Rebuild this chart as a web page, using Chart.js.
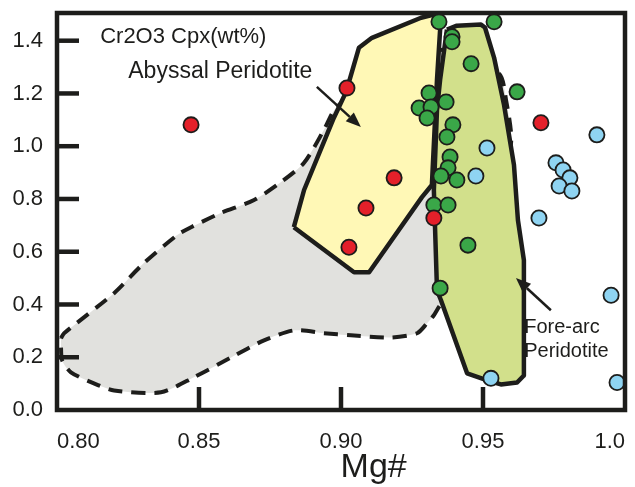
<!DOCTYPE html>
<html>
<head>
<meta charset="utf-8">
<script src="https://cdn.jsdelivr.net/npm/chart.js@4.4.1/dist/chart.umd.min.js"></script>
<style>
  html, body { margin: 0; padding: 0; background: #ffffff; }
  #wrap { width: 635px; height: 487px; }
</style>
</head>
<body>
<div id="wrap"><canvas id="chart" width="635" height="487"></canvas></div>
<script>
// tick values and labels
var xTicks = [0.80, 0.85, 0.90, 0.95, 1.0];
var xTickLabels = ["0.80", "0.85", "0.90", "0.95", "1.0"];
var yTicks = [0.0, 0.2, 0.4, 0.6, 0.8, 1.0, 1.2, 1.4];
var yTickLabels = ["0.0", "0.2", "0.4", "0.6", "0.8", "1.0", "1.2", "1.4"];

// samples (Mg#, Cr2O3 wt%)
var redX = [0.8472, 0.9021, 0.9187, 0.9088, 0.9028, 0.9327, 0.9704];
var redY = [1.081, 1.221, 0.880, 0.766, 0.617, 0.728, 1.089];
var greenX = [0.9345, 0.9539, 0.9391, 0.9391, 0.9458, 0.9620, 0.9310, 0.9370, 0.9275, 0.9317, 0.9303,
              0.9394, 0.9373, 0.9384, 0.9377, 0.9352, 0.9408, 0.9327, 0.9377, 0.9447, 0.9349];
var greenY = [1.472, 1.472, 1.415, 1.396, 1.313, 1.206, 1.202, 1.168, 1.145, 1.149, 1.107,
              1.081, 1.035, 0.959, 0.918, 0.887, 0.872, 0.777, 0.777, 0.625, 0.462];
var blueX = [0.9514, 0.9475, 0.9901, 0.9757, 0.9782, 0.9806, 0.9768, 0.9813, 0.9697, 0.9951, 0.9972, 0.9528];
var blueY = [0.993, 0.887, 1.043, 0.937, 0.910, 0.880, 0.849, 0.830, 0.728, 0.435, 0.104, 0.120];

// field outlines
var grayX = [0.8014, 0.8025, 0.8201, 0.8306, 0.8423, 0.8472, 0.8577, 0.8694, 0.8789, 0.8870, 0.8940, 0.8982,
             0.9151, 0.9363, 0.9556, 0.9581, 0.9599, 0.9539, 0.9398, 0.9349, 0.9327, 0.9303, 0.9268, 0.9176,
             0.9035, 0.8940, 0.8835, 0.8729, 0.8613, 0.8482, 0.8366, 0.8201, 0.8130, 0.8049, 0.8018, 0.8014];
var grayY = [0.272, 0.291, 0.443, 0.557, 0.663, 0.693, 0.747, 0.796, 0.864, 0.937, 1.062, 1.145,
             1.290, 1.366, 1.275, 1.176, 1.016, 0.720, 0.454, 0.397, 0.359, 0.329, 0.291, 0.275,
             0.283, 0.291, 0.302, 0.264, 0.199, 0.124, 0.067, 0.074, 0.101, 0.143, 0.188, 0.245];
var abyssalX = [0.8834, 0.8870, 0.8975, 0.9018, 0.9063, 0.9109, 0.9282, 0.9327, 0.9349, 0.9338, 0.9320,
                0.9285, 0.9099, 0.9046];
var abyssalY = [0.693, 0.834, 1.108, 1.206, 1.373, 1.411, 1.487, 1.499, 1.442, 1.252, 0.853,
                0.807, 0.522, 0.522];
var forearcX = [0.9373, 0.9408, 0.9493, 0.9507, 0.9539, 0.9574, 0.9609, 0.9623, 0.9644, 0.9644, 0.9644,
                0.9620, 0.9563, 0.9528, 0.9444, 0.9352, 0.9338, 0.9327, 0.9338, 0.9349];
var forearcY = [1.442, 1.457, 1.461, 1.450, 1.336, 1.157, 0.929, 0.720, 0.568, 0.416, 0.131,
                0.104, 0.097, 0.108, 0.139, 0.416, 0.454, 0.834, 1.138, 1.252];

// labels and arrows placed in data units
var notes = [
  { text: "Cr2O3 Cpx(wt%)", x: 0.8152, y: 1.393, size: 22 },
  { text: "Abyssal Peridotite", x: 0.8251, y: 1.260, size: 23 },
  { text: "Fore-arc", x: 0.9645, y: 0.291, size: 20 },
  { text: "Peridotite", x: 0.9645, y: 0.200, size: 20 }
];
var arrows = [
  { x1: 0.8915, y1: 1.225, x2: 0.9070, y2: 1.073 },
  { x1: 0.9739, y1: 0.378, x2: 0.9616, y2: 0.500 }
];

var FONT = "'Liberation Sans', Arial, Helvetica, sans-serif";
var INK = "#1d1d1b";

function pts(xs, ys) {
  var out = [];
  for (var i = 0; i < xs.length; i++) out.push({ x: xs[i], y: ys[i] });
  return out;
}
function closed(xs, ys) {
  var out = pts(xs, ys);
  out.push({ x: xs[0], y: ys[0] });
  return out;
}

function drawArrow(ctx, x1, y1, x2, y2) {
  var ang = Math.atan2(y2 - y1, x2 - x1);
  var head = 15, half = 6;
  var bx = x2 - head * Math.cos(ang), by = y2 - head * Math.sin(ang);
  ctx.beginPath();
  ctx.moveTo(x1, y1);
  ctx.lineTo(bx, by);
  ctx.stroke();
  ctx.beginPath();
  ctx.moveTo(x2, y2);
  ctx.lineTo(bx + half * Math.sin(ang), by - half * Math.cos(ang));
  ctx.lineTo(bx - half * Math.sin(ang), by + half * Math.cos(ang));
  ctx.closePath();
  ctx.fill();
}

var decorPlugin = {
  id: "decor",
  afterDatasetsDraw: function (chart) {
    var ctx = chart.ctx;
    var a = chart.chartArea;
    var xs = chart.scales.x, ys = chart.scales.y;
    ctx.save();
    ctx.strokeStyle = INK;
    ctx.fillStyle = INK;

    // inward tick marks
    ctx.lineWidth = 4.5;
    ctx.lineCap = "butt";
    for (var i = 1; i < xTicks.length - 1; i++) {
      var px = xs.getPixelForValue(xTicks[i]);
      ctx.beginPath();
      ctx.moveTo(px, a.bottom);
      ctx.lineTo(px, a.bottom - 23);
      ctx.stroke();
    }
    for (var j = 1; j < yTicks.length; j++) {
      var py = ys.getPixelForValue(yTicks[j]);
      ctx.beginPath();
      ctx.moveTo(a.left, py);
      ctx.lineTo(a.left + 22, py);
      ctx.stroke();
    }

    // frame
    ctx.lineWidth = 4.5;
    ctx.strokeRect(a.left, a.top, a.right - a.left, a.bottom - a.top);

    // arrows
    ctx.lineWidth = 2.5;
    for (var k = 0; k < arrows.length; k++) {
      var r = arrows[k];
      drawArrow(ctx, xs.getPixelForValue(r.x1), ys.getPixelForValue(r.y1),
        xs.getPixelForValue(r.x2), ys.getPixelForValue(r.y2));
    }

    // text labels
    ctx.textAlign = "left";
    ctx.textBaseline = "alphabetic";
    for (var n = 0; n < notes.length; n++) {
      ctx.font = notes[n].size + "px " + FONT;
      ctx.fillText(notes[n].text, xs.getPixelForValue(notes[n].x), ys.getPixelForValue(notes[n].y));
    }

    // x axis title
    ctx.font = "34px " + FONT;
    ctx.textAlign = "center";
    ctx.fillText("Mg#", xs.getPixelForValue(0.9115), a.bottom + 67);
    ctx.restore();
  }
};

var ctxEl = document.getElementById("chart");
var chart = new Chart(ctxEl, {
  type: "scatter",
  data: {
    datasets: [
      {
        label: "Red samples",
        data: pts(redX, redY),
        backgroundColor: "#e4202a",
        borderColor: INK,
        borderWidth: 1.8,
        pointRadius: 7.6,
        order: 1
      },
      {
        label: "Green samples",
        data: pts(greenX, greenY),
        backgroundColor: "#3aa748",
        borderColor: INK,
        borderWidth: 1.8,
        pointRadius: 7.6,
        order: 2
      },
      {
        label: "Blue samples",
        data: pts(blueX, blueY),
        backgroundColor: "#8fd4f2",
        borderColor: INK,
        borderWidth: 1.8,
        pointRadius: 7.6,
        order: 3
      },
      {
        type: "line",
        label: "Fore-arc Peridotite",
        data: closed(forearcX, forearcY),
        fill: "shape",
        backgroundColor: "#d2e08b",
        borderColor: INK,
        borderWidth: 4.5,
        borderJoinStyle: "round",
        pointRadius: 0,
        tension: 0,
        order: 8
      },
      {
        type: "line",
        label: "Abyssal Peridotite",
        data: closed(abyssalX, abyssalY),
        fill: "shape",
        backgroundColor: "#fff8b6",
        borderColor: INK,
        borderWidth: 4.5,
        borderJoinStyle: "round",
        pointRadius: 0,
        tension: 0,
        order: 9
      },
      {
        type: "line",
        label: "Gray field",
        data: closed(grayX, grayY),
        fill: "shape",
        backgroundColor: "#e1e1de",
        borderColor: INK,
        borderWidth: 4,
        borderDash: [14, 9],
        pointRadius: 0,
        tension: 0.25,
        order: 10
      }
    ]
  },
  options: {
    responsive: false,
    animation: false,
    events: [],
    layout: { padding: { top: 13, right: 10, left: 0, bottom: 0 } },
    plugins: { legend: { display: false }, tooltip: { enabled: false } },
    scales: {
      x: {
        type: "linear",
        min: 0.8,
        max: 1.0,
        grid: { display: false, drawTicks: false },
        border: { display: false },
        afterBuildTicks: function (s) {
          s.ticks = xTicks.map(function (v) { return { value: v }; });
        },
        afterFit: function (s) {
          s.height = 77;
          s.paddingLeft = 0;
          s.paddingRight = 0;
        },
        ticks: {
          padding: 19,
          align: "inner",
          color: INK,
          font: { family: FONT, size: 22 },
          maxRotation: 0,
          autoSkip: false,
          callback: function (v, i) { return xTickLabels[i]; }
        }
      },
      y: {
        type: "linear",
        min: 0,
        max: 1.505,
        grid: { display: false, drawTicks: false },
        border: { display: false },
        afterBuildTicks: function (s) {
          s.ticks = yTicks.map(function (v) { return { value: v }; });
        },
        afterFit: function (s) {
          s.width = 57;
          s.paddingTop = 0;
          s.paddingBottom = 0;
        },
        ticks: {
          padding: 14,
          color: INK,
          font: { family: FONT, size: 22 },
          autoSkip: false,
          callback: function (v, i) { return yTickLabels[i]; }
        }
      }
    }
  },
  plugins: [decorPlugin]
});
</script>
</body>
</html>
